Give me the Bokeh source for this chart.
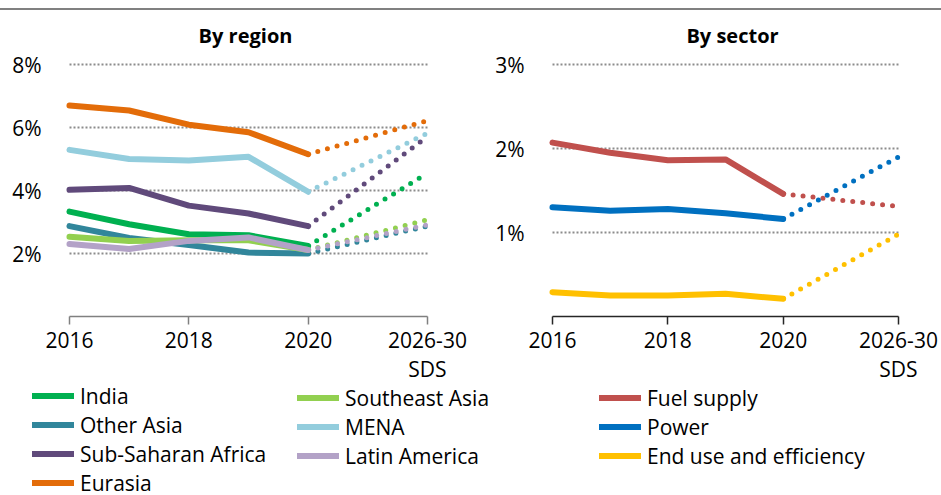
from bokeh.plotting import figure
from bokeh.models import Range1d, FixedTicker, Legend, LegendItem, Div, Label, LinearAxis
from bokeh.layouts import row, column
from bokeh.embed import file_html
from bokeh.resources import INLINE

# ---------------- data ----------------
years = [2016, 2017, 2018, 2019, 2020]
sds_slot = 2022                      # axis slot used for the 2026-30 SDS value
tick_pos = [2016, 2018, 2020, 2022]
tick_text = ["2016", "2018", "2020", "2026-30\nSDS"]

region_names = ["India", "Other Asia", "Sub-Saharan Africa", "Eurasia",
                "Southeast Asia", "MENA", "Latin America"]
india = [3.33, 2.93, 2.61, 2.58, 2.24]
other_asia = [2.87, 2.49, 2.27, 2.03, 2.00]
ssa = [4.02, 4.08, 3.52, 3.27, 2.87]
eurasia = [6.70, 6.54, 6.09, 5.85, 5.15]
sea = [2.53, 2.40, 2.42, 2.42, 2.11]
mena = [5.29, 5.00, 4.95, 5.07, 3.96]
latam = [2.30, 2.14, 2.40, 2.51, 2.11]
region_sds = [4.55, 2.87, 5.71, 6.22, 3.07, 5.82, 2.91]
region_colors = ["#00B050", "#31869B", "#604A7B", "#E36C09",
                 "#92D050", "#93CDDD", "#B3A2C7"]
region_ticks = [2, 4, 6, 8]

sector_names = ["Fuel supply", "Power", "End use and efficiency"]
fuel = [2.07, 1.95, 1.86, 1.87, 1.46]
power = [1.30, 1.26, 1.28, 1.23, 1.16]
end_use = [0.29, 0.25, 0.25, 0.27, 0.21]
sector_sds = [1.31, 1.90, 0.98]
sector_colors = ["#C0504D", "#0070C0", "#FFC000"]
sector_ticks = [1, 2, 3]

FONT = "Open Sans"

# ---------------- layout (pixels, within each figure) ----------------
FIG_H = 485          # figure height (below the top rule)
Y_TOP_PX = 54        # pixel row of the top tick value
Y_ZERO_PX = 306      # pixel row of zero (x axis)
TITLE_PX = 25        # pixel row of the panel title centre
LEFT_W = 494
RIGHT_W = 941 - LEFT_W


def make_fig(width, x_left_px, x_right_px, ymax, yticks, title, title_x, axis_color):
    span = tick_pos[-1] - tick_pos[0]
    ppu_x = (x_right_px - x_left_px) / span
    x0 = tick_pos[0] - x_left_px / ppu_x
    x1 = tick_pos[-1] + (width - x_right_px) / ppu_x
    ppu_y = (Y_ZERO_PX - Y_TOP_PX) / ymax
    y0 = -(FIG_H - Y_ZERO_PX) / ppu_y
    y1 = ymax + Y_TOP_PX / ppu_y
    p = figure(width=width, height=FIG_H, output_backend="svg", toolbar_location=None,
               x_range=Range1d(x0, x1), y_range=Range1d(y0, y1),
               x_axis_type=None, y_axis_type=None,
               min_border_left=0, min_border_right=0,
               min_border_top=0, min_border_bottom=0)
    p.outline_line_color = None
    p.background_fill_color = "white"
    p.border_fill_color = "white"
    p.grid.visible = False

    p.add_layout(Label(x=title_x, y=FIG_H - TITLE_PX, x_units="screen", y_units="screen",
                       text=title, text_font=FONT, text_font_size="20px",
                       text_font_style="bold", text_color="#000000",
                       text_align="center", text_baseline="middle"))

    # dotted horizontal gridlines across the data area
    n = len(yticks)
    p.segment(x0=[tick_pos[0]] * n, y0=yticks, x1=[tick_pos[-1]] * n, y1=yticks,
              line_color="#8c8c8c", line_width=2, line_dash="2 2")

    yax = LinearAxis(fixed_location=tick_pos[0])
    yax.ticker = FixedTicker(ticks=yticks)
    yax.major_label_overrides = {v: f"{v}%" for v in yticks}
    yax.axis_line_color = None
    yax.major_tick_line_color = None
    yax.minor_tick_line_color = None
    yax.major_label_standoff = 22
    yax.major_label_text_font = FONT
    yax.major_label_text_font_size = "21px"
    yax.major_label_text_color = "#000000"
    p.add_layout(yax, "left")

    xax = LinearAxis(fixed_location=0, bounds=(tick_pos[0], tick_pos[-1]))
    xax.ticker = FixedTicker(ticks=tick_pos)
    xax.major_label_overrides = dict(zip(tick_pos, tick_text))
    xax.axis_line_color = axis_color
    xax.axis_line_width = 1.5
    xax.major_tick_line_color = axis_color
    xax.major_tick_line_width = 1.5
    xax.major_tick_in = 0
    xax.major_tick_out = 8
    xax.minor_tick_line_color = None
    xax.major_label_standoff = 1
    xax.major_label_text_font = FONT
    xax.major_label_text_font_size = "21px"
    xax.major_label_text_line_height = 1.05
    xax.major_label_text_color = "#000000"
    p.add_layout(xax, "below")
    return p


def add_series(p, hist, sds, color):
    r = p.line(years, hist, line_color=color, line_width=6,
               line_cap="round", line_join="round")
    p.line([years[-1], sds_slot], [hist[-1], sds], line_color=color, line_width=5,
           line_dash="0 10", line_cap="round")
    return r


def make_legend(items, x, y):
    leg = Legend(items=items, location=(x, y), orientation="vertical")
    leg.border_line_color = None
    leg.background_fill_alpha = 0
    leg.padding = 0
    leg.margin = 0
    leg.spacing = 0
    leg.glyph_width = 42
    leg.glyph_height = 29
    leg.label_height = 29
    leg.label_standoff = 6
    leg.label_text_font = FONT
    leg.label_text_font_size = "21px"
    leg.label_text_color = "#000000"
    return leg


# ---------------- left: by region ----------------
left = make_fig(LEFT_W, 69, 427, 8, region_ticks, "By region", 245, "#808080")
region_hist = [india, other_asia, ssa, eurasia, sea, mena, latam]
region_renderers = []
for name, hist, sds, col in zip(region_names, region_hist, region_sds, region_colors):
    region_renderers.append(add_series(left, hist, sds, col))
items1 = [LegendItem(label=n, renderers=[r]) for n, r in zip(region_names[:4], region_renderers[:4])]
items2 = [LegendItem(label=n, renderers=[r]) for n, r in zip(region_names[4:], region_renderers[4:])]
left.add_layout(make_legend(items1, 32, -2))
left.add_layout(make_legend(items2, 297, 25))

# ---------------- right: by sector ----------------
right = make_fig(RIGHT_W, 552 - LEFT_W, 898 - LEFT_W, 3, sector_ticks, "By sector",
                 732 - LEFT_W, "#262626")
sector_hist = [fuel, power, end_use]
sector_renderers = []
for name, hist, sds, col in zip(sector_names, sector_hist, sector_sds, sector_colors):
    sector_renderers.append(add_series(right, hist, sds, col))
items3 = [LegendItem(label=n, renderers=[r]) for n, r in zip(sector_names, sector_renderers)]
right.add_layout(make_legend(items3, 599 - LEFT_W, 25))

top_rule = Div(text="", width=941, height=2, margin=(8, 0, 0, 0),
               styles={"background-color": "#808080"})
layout = column(top_rule, row(left, right))

with open("out.html", "w") as f:
    f.write(file_html(layout, INLINE))
